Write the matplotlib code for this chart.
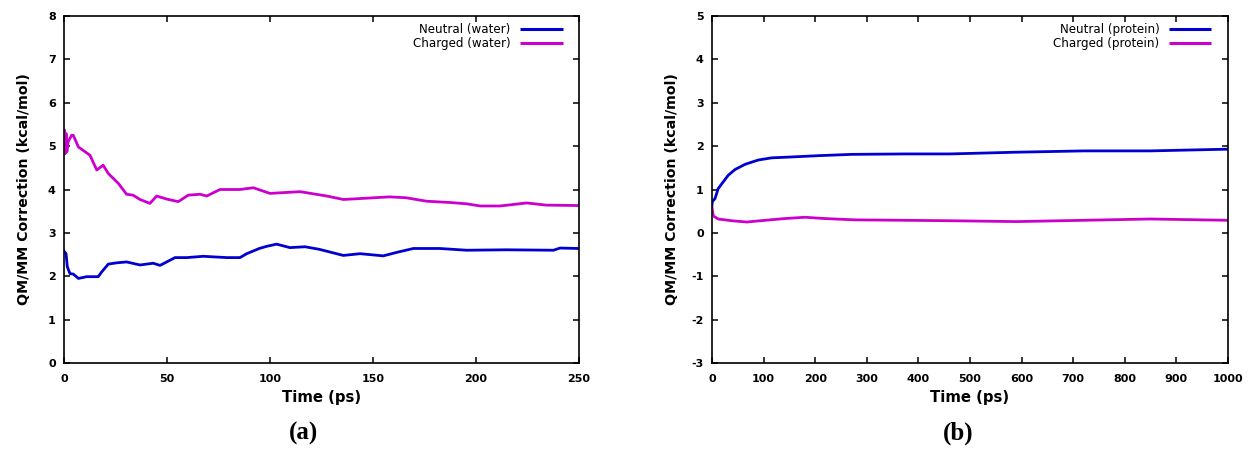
import matplotlib
matplotlib.use("Agg")
import matplotlib.pyplot as plt

# ---------------- data ----------------
# Panel (a): water, time in ps
t_charged_water = [0.0, 0.3, 0.6, 1.0, 1.4, 2.0, 3.7, 4.5, 7.0, 12.6, 15.9, 19.0, 21.5, 26.4,
                   30.4, 33.5, 36.9, 41.7, 45.0, 49.8, 55.5, 60.3, 66.0, 69.3, 75.7, 85.4,
                   91.9, 100.0, 114.6, 127.5, 135.6, 146.9, 158.0, 166.0, 176.0, 187.4,
                   195.5, 202.0, 211.7, 224.6, 234.0, 250.0]
v_charged_water = [4.84, 5.37, 4.83, 5.29, 4.87, 5.10, 5.25, 5.25, 4.98, 4.79, 4.45, 4.56, 4.37,
                   4.14, 3.89, 3.87, 3.77, 3.68, 3.85, 3.78, 3.72, 3.87, 3.89, 3.85, 4.00, 4.00,
                   4.04, 3.91, 3.95, 3.85, 3.77, 3.80, 3.83, 3.81, 3.73, 3.70, 3.67, 3.62,
                   3.62, 3.69, 3.64, 3.63]

t_neutral_water = [0.0, 1.0, 1.6, 2.9, 4.5, 7.0, 11.0, 16.6, 18.3, 21.5, 25.6, 30.4, 36.9,
                   43.3, 46.6, 53.9, 59.6, 67.6, 79.0, 85.4, 88.7, 94.8, 98.4, 103.2, 109.7,
                   117.0, 124.0, 135.6, 143.7, 155.0, 161.5, 169.6, 182.5, 195.5, 214.9,
                   237.6, 240.8, 250.0]
v_neutral_water = [2.58, 2.52, 2.22, 2.06, 2.05, 1.95, 1.99, 1.99, 2.10, 2.28, 2.31, 2.33, 2.26,
                   2.30, 2.25, 2.43, 2.43, 2.46, 2.43, 2.43, 2.52, 2.64, 2.69, 2.74, 2.66,
                   2.68, 2.62, 2.48, 2.52, 2.47, 2.55, 2.64, 2.64, 2.60, 2.61, 2.60, 2.65, 2.64]

# Panel (b): protein, time in ps
t_neutral_protein = [0.0, 0.6, 5.8, 12.0, 22.0, 31.6, 44.6, 64.0, 89.7, 115.6, 154.0, 206.0,
                     270.7, 374.0, 461.0, 590.0, 720.0, 849.0, 1000.0]
v_neutral_protein = [0.64, 0.72, 0.79, 1.02, 1.18, 1.33, 1.46, 1.58, 1.68, 1.73, 1.75, 1.78,
                     1.81, 1.82, 1.82, 1.86, 1.89, 1.89, 1.93]

t_charged_protein = [0.0, 2.6, 12.0, 38.0, 67.0, 103.0, 141.0, 180.0, 219.0, 277.0, 374.0,
                     461.0, 590.0, 720.0, 849.0, 1000.0]
v_charged_protein = [0.58, 0.39, 0.32, 0.28, 0.25, 0.29, 0.33, 0.36, 0.33, 0.30, 0.29,
                     0.28, 0.26, 0.29, 0.32, 0.29]

xticks_a = [0, 50, 100, 150, 200, 250]
yticks_a = [0, 1, 2, 3, 4, 5, 6, 7, 8]
xticks_b = [0, 100, 200, 300, 400, 500, 600, 700, 800, 900, 1000]
yticks_b = [-3, -2, -1, 0, 1, 2, 3, 4, 5]

labels_a = ["Neutral (water)", "Charged (water)"]
labels_b = ["Neutral (protein)", "Charged (protein)"]

# ---------------- style ----------------
BLUE = "#0000d0"
MAGENTA = "#cc00cc"
plt.rcParams["font.family"] = ["DejaVu Sans"]
plt.rcParams["axes.unicode_minus"] = False

fig = plt.figure(figsize=(12.5, 4.5), dpi=100)
ax_a = fig.add_axes([64 / 1250, 1 - 363 / 450, 515 / 1250, 347 / 450])
ax_b = fig.add_axes([712 / 1250, 1 - 363 / 450, 516 / 1250, 347 / 450])


def style_axes(ax, xticks, yticks, xlim, ylim, ylab_x):
    ax.set_xlim(*xlim)
    ax.set_ylim(*ylim)
    ax.set_xticks(xticks)
    ax.set_yticks(yticks)
    ax.tick_params(direction="in", length=4.5, width=1.1, top=True, right=True,
                   labelsize=8, colors="black")
    ax.tick_params(axis="x", pad=8)
    ax.tick_params(axis="y", pad=6)
    for lab in ax.get_xticklabels() + ax.get_yticklabels():
        lab.set_fontweight("bold")
    for s in ax.spines.values():
        s.set_linewidth(1.2)
    ax.set_xlabel("Time (ps)", fontsize=10.7, fontweight="bold")
    ax.xaxis.set_label_coords(0.5, -0.1)
    ax.xaxis.label.set_va("center")
    ax.set_ylabel("QM/MM Correction (kcal/mol)", fontsize=10.2, fontweight="bold")
    ax.yaxis.set_label_coords(ylab_x, 0.5)
    ax.yaxis.label.set_va("center")


def key(ax, labels, colors):
    ys = [0.9625, 0.922]
    for lab, col, y in zip(labels, colors, ys):
        ax.text(0.867, y, lab, transform=ax.transAxes, ha="right", va="center",
                fontsize=8.6)
        ax.plot([0.886, 0.968], [y, y], transform=ax.transAxes, color=col, lw=2.2,
                solid_capstyle="butt")


# Panel (a)
ax_a.plot(t_neutral_water, v_neutral_water, color=BLUE, lw=2.0)
ax_a.plot(t_charged_water, v_charged_water, color=MAGENTA, lw=2.0)
style_axes(ax_a, xticks_a, yticks_a, (0, 250), (0, 8), -0.0786)
key(ax_a, labels_a, [BLUE, MAGENTA])

# Panel (b)
ax_b.plot(t_neutral_protein, v_neutral_protein, color=BLUE, lw=2.0)
ax_b.plot(t_charged_protein, v_charged_protein, color=MAGENTA, lw=2.0)
style_axes(ax_b, xticks_b, yticks_b, (0, 1000), (-3, 5), -0.0766)
key(ax_b, labels_b, [BLUE, MAGENTA])

fig.text(303 / 1250, 1 - 433 / 450, "(a)", ha="center", va="center", fontsize=18,
         fontweight="bold", family=["Liberation Serif", "DejaVu Serif"])
fig.text(958 / 1250, 1 - 433 / 450, "(b)", ha="center", va="center", fontsize=18,
         fontweight="bold", family=["Liberation Serif", "DejaVu Serif"])

fig.savefig("out.png", dpi=100)
